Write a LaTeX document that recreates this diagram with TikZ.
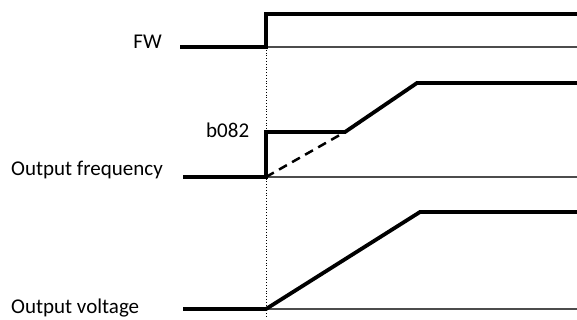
\documentclass[tikz,border=0pt]{standalone}
\usepackage{fontspec}
\setmainfont{Carlito}
\begin{document}
\begin{tikzpicture}[x=1pt,y=-1pt,
  sig/.style={line width=3.8pt,line join=miter},
  base/.style={line width=1.3pt,black!70},
  guide/.style={line width=0.8pt,dotted},
  lab/.style={font=\fontsize{21}{23}\selectfont,inner sep=0pt}]
\useasboundingbox (0,0) rectangle (577,320);
% FW
\coordinate (f0) at (180,47);
\coordinate (f1) at (266,47);
\coordinate (f2) at (266,14);
\coordinate (f3) at (577,14);
\coordinate (f4) at (577,47);
% Output frequency
\coordinate (q0) at (183,177);
\coordinate (q1) at (266,177);
\coordinate (q2) at (266,132);
\coordinate (q3) at (345,132);
\coordinate (q4) at (417,83);
\coordinate (q5) at (577,83);
\coordinate (q6) at (577,177);
% Output voltage
\coordinate (v0) at (183,309);
\coordinate (v1) at (266,309);
\coordinate (v2) at (420,212);
\coordinate (v3) at (577,212);
\coordinate (v4) at (577,309);
\coordinate (g1) at (266,318);
% baselines
\draw[base] (f1) -- (f4);
\draw[base] (q1) -- (q6);
\draw[base] (v1) -- (v4);
% guide
\draw[guide] (f1) -- (g1);
% signals
\draw[sig] (f0) -- (f1) -- (f2) -- (f3);
\draw[sig] (q0) -- (q1) -- (q2) -- (q3) -- (q4) -- (q5);
\draw[line width=2.5pt,dash pattern=on 9pt off 6pt] (q1) -- (q3);
\draw[sig] (v0) -- (v1) -- (v2) -- (v3);
% labels
\node[lab,anchor=base east] (lfw) at (162,49) {FW};
\node[lab,anchor=base west] (lb) at (206,138) {b082};
\node[lab,anchor=base west] (lq) at (11,176) {Output frequency};
\node[lab,anchor=base west] (lv) at (11,313) {Output voltage};
\end{tikzpicture}
\end{document}
